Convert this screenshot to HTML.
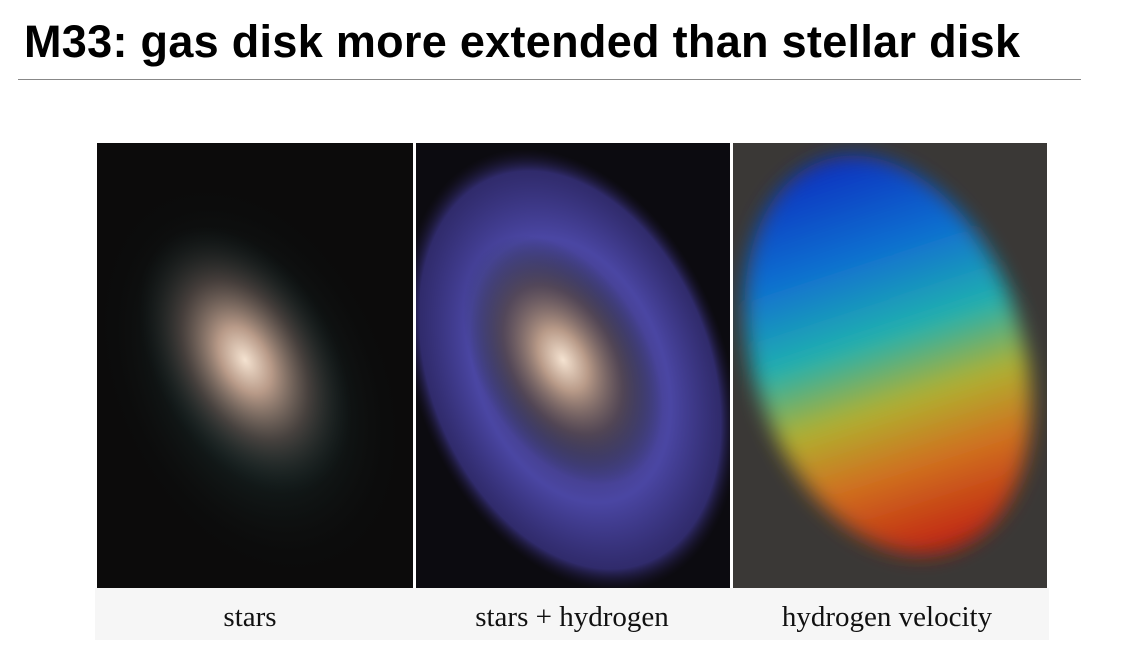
<!DOCTYPE html>
<html><head><meta charset="utf-8"><style>
body{margin:0;width:1126px;height:670px;background:#fff;overflow:hidden;position:relative;font-family:"Liberation Sans",sans-serif}
#title{position:absolute;left:24px;top:16px;font-size:45px;font-weight:bold;color:#000;margin:0;letter-spacing:0.3px;white-space:nowrap}
#rule{position:absolute;left:18px;top:79px;width:1063px;height:1px;background:#888}
#caps{position:absolute;left:95px;top:588px;width:954px;height:52px;background:#f6f6f6}
.cap{position:absolute;top:601px;font-family:"Liberation Serif",serif;font-size:29px;color:#111;text-align:center;white-space:nowrap}
</style></head><body>
<h1 id="title">M33: gas disk more extended than stellar disk</h1>
<div id="rule"></div>
<div id="caps"></div>
<svg width="1126" height="670" style="position:absolute;left:0;top:0">
<defs>
<radialGradient id="core" cx="0.5" cy="0.5" r="0.5">
<stop offset="0" stop-color="#f4e2d0"/><stop offset="0.25" stop-color="#b89a88"/><stop offset="0.6" stop-color="#5a4c48" stop-opacity="0.7"/><stop offset="1" stop-color="#1a2a2a" stop-opacity="0"/></radialGradient>
<radialGradient id="halo" cx="0.5" cy="0.5" r="0.5">
<stop offset="0" stop-color="#2a4a48"/><stop offset="1" stop-color="#0a0c0c" stop-opacity="0"/></radialGradient>
<radialGradient id="hi" cx="0.5" cy="0.5" r="0.5">
<stop offset="0" stop-color="#7060c0" stop-opacity="0.3"/><stop offset="0.6" stop-color="#5a55c8" stop-opacity="0.8"/><stop offset="0.9" stop-color="#4840a8" stop-opacity="0.6"/><stop offset="1" stop-color="#201840" stop-opacity="0"/></radialGradient>
<linearGradient id="vel" x1="0" y1="0" x2="0" y2="1">
<stop offset="0" stop-color="#1030c0"/><stop offset="0.25" stop-color="#1070d0"/><stop offset="0.45" stop-color="#20b0b0"/><stop offset="0.62" stop-color="#b0b030"/><stop offset="0.78" stop-color="#d07020"/><stop offset="1" stop-color="#c02010"/></linearGradient>
<filter id="blur"><feGaussianBlur stdDeviation="10"/></filter>
<clipPath id="c1"><rect x="97" y="143" width="316" height="445"/></clipPath>
<clipPath id="c2"><rect x="416" y="143" width="314" height="445"/></clipPath>
<clipPath id="c3"><rect x="733" y="143" width="314" height="445"/></clipPath>
</defs>
<g clip-path="url(#c1)">
<rect x="97" y="143" width="316" height="445" fill="#0c0b0b"/>
<ellipse cx="250" cy="380" rx="140" ry="210" fill="url(#halo)" transform="rotate(-25 250 380)"/>
<ellipse cx="245" cy="360" rx="90" ry="145" fill="url(#core)" transform="rotate(-30 245 360)"/>
</g>
<g clip-path="url(#c2)">
<rect x="416" y="143" width="314" height="445" fill="#0c0b10"/>
<ellipse cx="570" cy="370" rx="155" ry="230" fill="url(#hi)" transform="rotate(-22 570 370)"/>
<ellipse cx="563" cy="360" rx="85" ry="135" fill="url(#core)" transform="rotate(-30 563 360)"/>
</g>
<g clip-path="url(#c3)">
<rect x="733" y="143" width="314" height="445" fill="#3a3836"/>
<ellipse cx="888" cy="355" rx="135" ry="205" fill="url(#vel)" filter="url(#blur)" transform="rotate(-18 888 355)"/>
</g>
</svg>
<div class="cap" style="left:180px;width:140px">stars</div>
<div class="cap" style="left:447px;width:250px">stars + hydrogen</div>
<div class="cap" style="left:752px;width:270px">hydrogen velocity</div>
</body></html>
